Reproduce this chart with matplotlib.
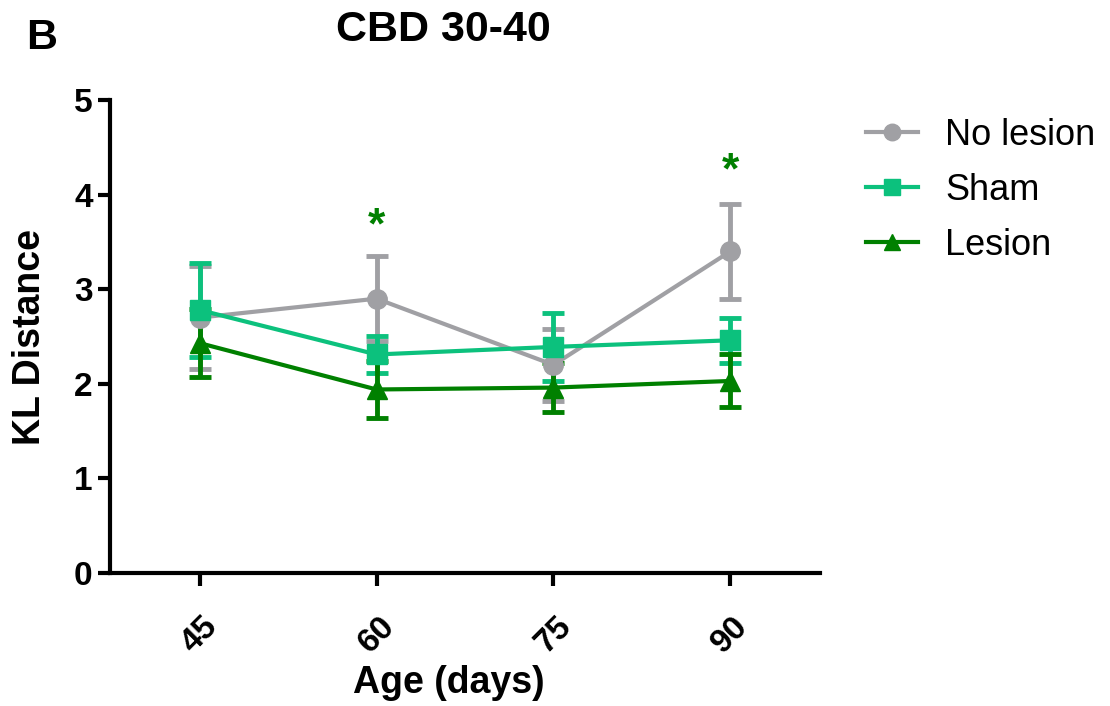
import matplotlib
matplotlib.use("Agg")
import matplotlib.pyplot as plt

plt.rcParams['font.family'] = ['Liberation Sans', 'DejaVu Sans']

ages = [45, 60, 75, 90]

no_lesion = [2.70, 2.90, 2.20, 3.40]
no_lesion_err = [0.54, 0.45, 0.38, 0.50]
sham = [2.78, 2.31, 2.39, 2.46]
sham_err = [0.50, 0.20, 0.36, 0.24]
lesion = [2.43, 1.94, 1.96, 2.03]
lesion_err = [0.36, 0.30, 0.26, 0.28]

star_x = [60, 90]
star_y = [3.66, 4.24]

c_grey = '#a0a0a4'
c_sham = '#0cc17d'
c_lesion = '#008000'

W, H = 1110, 706
fig = plt.figure(figsize=(W / 100, H / 100), dpi=100)
ax = fig.add_axes([110 / W, 1 - 573 / H, 710 / W, 473 / H])

series = [
    (no_lesion, no_lesion_err, c_grey, 'o', 'No lesion'),
    (sham, sham_err, c_sham, 's', 'Sham'),
    (lesion, lesion_err, c_lesion, '^', 'Lesion'),
]
for vals, errs, col, mk, lab in series:
    ax.errorbar(ages, vals, yerr=errs, color=col, marker=mk, markersize=14,
                linewidth=3, elinewidth=3.5, capsize=8, capthick=3.5,
                label=lab)

# significance stars
for x, y in zip(star_x, star_y):
    ax.text(x, y, '*', color=c_lesion, fontsize=32, fontweight='bold',
            ha='center', va='center')

ax.set_xlim(37.4, 97.6)
ax.set_ylim(0, 5)
ax.set_xticks(ages)
ax.set_yticks([0, 1, 2, 3, 4, 5])
ax.spines['top'].set_visible(False)
ax.spines['right'].set_visible(False)
for s in ['left', 'bottom']:
    ax.spines[s].set_linewidth(3)
ax.tick_params(width=3, length=9, labelsize=24)
ax.tick_params(axis='x', pad=18)
for lbl in ax.get_xticklabels() + ax.get_yticklabels():
    lbl.set_fontweight('bold')
for lbl in ax.get_xticklabels():
    lbl.set_rotation(45)

fig.text(449 / W, 1 - 683 / H, 'Age (days)', fontsize=27, fontweight='bold',
         ha='center', va='center')
fig.text(30 / W, 1 - 337 / H, 'KL Distance', fontsize=27, fontweight='bold',
         ha='center', va='center', rotation=90)
fig.text(443 / W, 1 - 30 / H, 'CBD 30-40', fontsize=31, fontweight='bold',
         ha='center', va='center')
fig.text(42 / W, 1 - 38 / H, 'B', fontsize=31, fontweight='bold',
         ha='center', va='center')

handles, labels = ax.get_legend_handles_labels()
handles = [h[0] for h in handles]
fig.legend(handles, labels, loc='upper left', bbox_to_anchor=(866 / W, 1 - 118 / H),
           frameon=False, fontsize=26, handlelength=1.45, handletextpad=0.75,
           labelspacing=0.55, borderpad=0, borderaxespad=0, markerscale=0.85)

fig.savefig('out.png', dpi=100)
